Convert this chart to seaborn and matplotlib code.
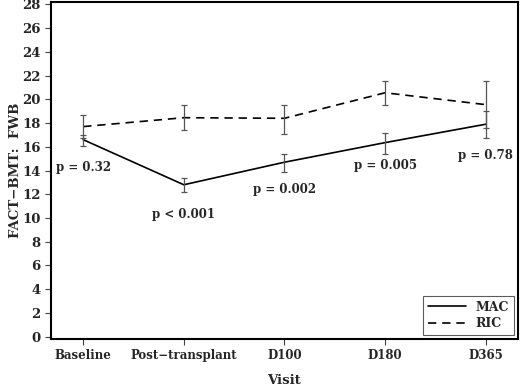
import pandas as pd
import numpy as np
import matplotlib
matplotlib.use('Agg')
import matplotlib.pyplot as plt
import seaborn as sns

visits = ['Baseline', 'Post\u2212transplant', 'D100', 'D180', 'D365']
mac_mean = [16.6, 12.8, 14.7, 16.35, 17.9]
mac_low = [16.1, 12.2, 13.9, 15.4, 16.7]
mac_high = [17.0, 13.4, 15.35, 17.2, 19.0]
ric_mean = [17.7, 18.45, 18.4, 20.55, 19.55]
ric_low = [16.7, 17.4, 17.05, 19.5, 17.6]
ric_high = [18.7, 19.5, 19.55, 21.5, 21.5]
p_labels = ['p = 0.32', 'p < 0.001', 'p = 0.002', 'p = 0.005', 'p = 0.78']
p_y = [14.25, 10.3, 12.4, 14.4, 15.3]

df = pd.DataFrame({
    'Visit': visits * 2,
    'score': mac_mean + ric_mean,
    'group': ['MAC'] * 5 + ['RIC'] * 5,
})

sns.set_style('white')
plt.rcParams['font.family'] = ['DejaVu Serif']
plt.rcParams['font.weight'] = 'bold'

fig = plt.figure(figsize=(5.2, 3.92), dpi=100)
ax = fig.add_axes([0.098, 0.135, 0.898, 0.86])

sns.lineplot(data=df, x='Visit', y='score', style='group', color='black',
             dashes={'MAC': '', 'RIC': (5, 3.5)}, lw=1.2, ax=ax, sort=False)

xs = np.arange(len(visits))
for m, lo, hi in [(mac_mean, mac_low, mac_high), (ric_mean, ric_low, ric_high)]:
    m = np.array(m)
    err = [m - np.array(lo), np.array(hi) - m]
    ax.errorbar(xs, m, yerr=err, fmt='none', ecolor='#555555', elinewidth=0.9,
                capsize=2, capthick=0.9)

for x, lab, y in zip(xs, p_labels, p_y):
    ax.text(x, y, lab, ha='center', va='center', fontsize=8.5, fontweight='bold')

ax.set_xlim(-0.32, 4.32)
ax.set_ylim(-0.2, 28.2)
ax.set_yticks(range(0, 29, 2))
ax.set_xticks(xs)
ax.set_xticklabels(visits)
ax.tick_params(axis='both', direction='out', length=4, width=0.8, color='#444444',
               labelsize=8.5, bottom=True, left=True)
ax.tick_params(axis='y', labelsize=9.5)
for s in ax.spines.values():
    s.set_linewidth(1.5)
    s.set_color('black')
ax.set_xlabel('Visit', fontsize=9.5, fontweight='bold', labelpad=8)
ax.set_ylabel('FACT\u2212BMT:  FWB', fontsize=9.5, fontweight='bold')
ax.yaxis.set_label_coords(-0.063, 0.5)

leg = ax.legend(loc='lower right', frameon=True, fancybox=False, fontsize=9,
                handlelength=3.0, borderpad=0.4, labelspacing=0.3, title=None,
                borderaxespad=0.3)
leg.get_frame().set_edgecolor('#333333')
leg.get_frame().set_linewidth(0.8)

fig.savefig('out.png', dpi=100)
